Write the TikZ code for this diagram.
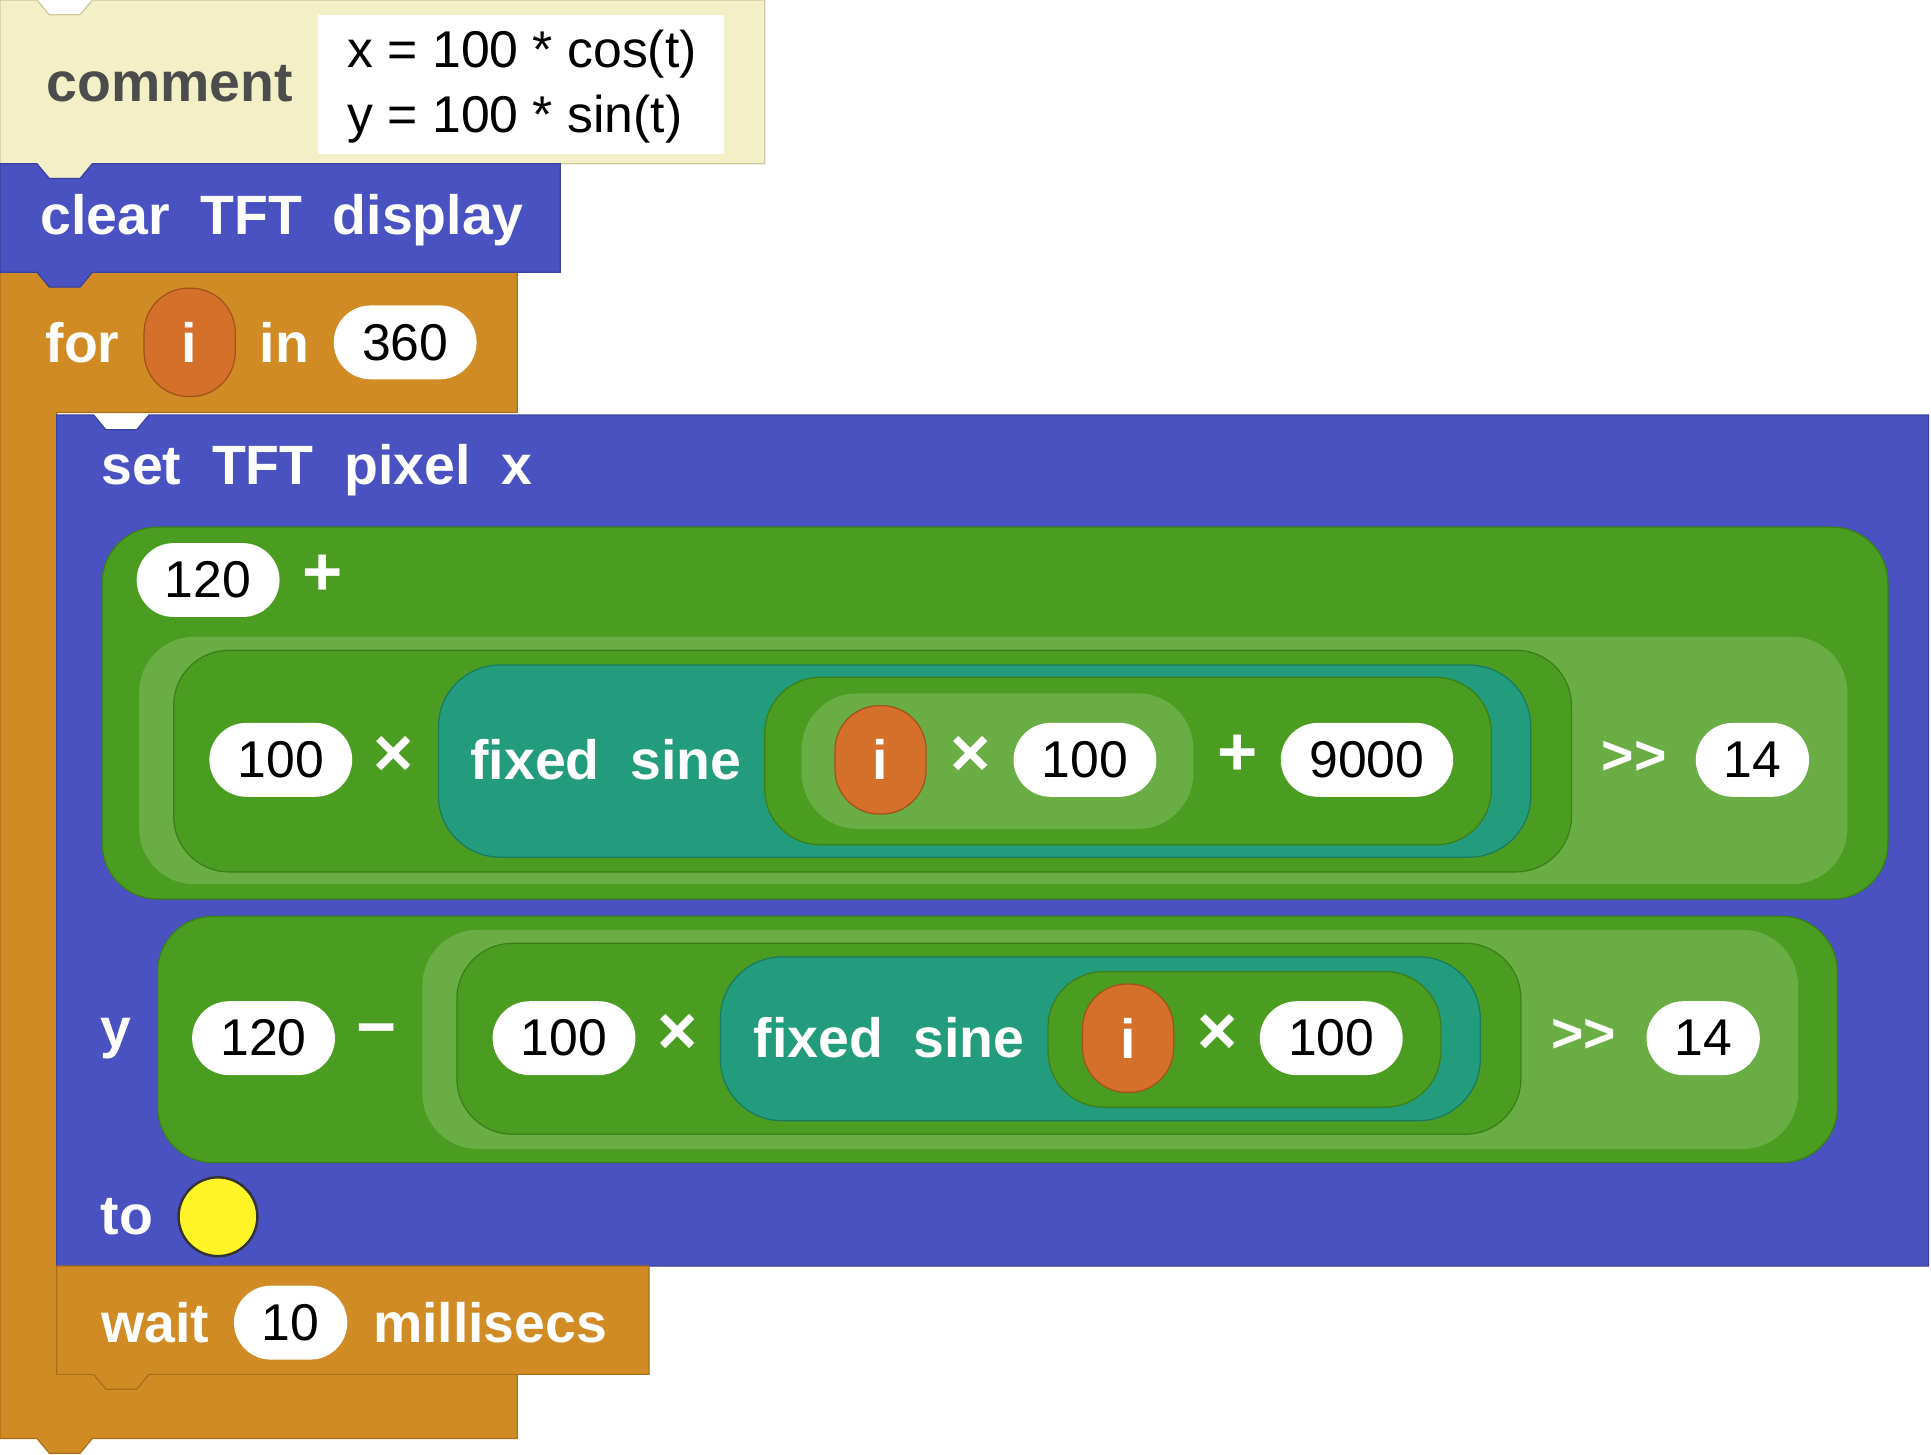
\documentclass[tikz,border=0pt]{standalone}
\usepackage{fontspec}
\setmainfont{Liberation Sans}
\begin{document}
\begin{tikzpicture}[x=1pt,y=-1pt,
 lab/.style={text=white,font=\fontsize{45}{50}\selectfont\bfseries,inner sep=0},
 op/.style={text=white,font=\fontsize{56}{60}\selectfont\bfseries,inner sep=0},
 pill/.style={fill=white,rounded corners=30pt,minimum height=60pt,font=\fontsize{42}{50}\selectfont,inner sep=0},
 var/.style={rectangle,rounded corners=36pt,fill=vorange,draw=vorangeD,line width=1pt,minimum width=74pt,minimum height=88pt,text=white,font=\fontsize{45}{50}\selectfont\bfseries,inner sep=0},
 blk/.style={line width=1pt},
 ]
\definecolor{cream}{HTML}{F3EFC6}\definecolor{creamD}{HTML}{CFC89E}
\definecolor{blue}{HTML}{4A52C2}\definecolor{blueD}{HTML}{3A42A0}
\definecolor{orng}{HTML}{D18B25}\definecolor{orngD}{HTML}{A86E1A}
\definecolor{vorange}{HTML}{D4702A}\definecolor{vorangeD}{HTML}{A2521C}
\definecolor{grn}{HTML}{4A9D20}\definecolor{grnD}{HTML}{3A7F18}
\definecolor{lgrn}{HTML}{6AAD45}\definecolor{teal}{HTML}{229C7C}\definecolor{tealD}{HTML}{1A7A60}
\useasboundingbox (0,0) rectangle (1568,1181);
% for block
\draw[blk,fill=orng,draw=orngD] (0,228) -- (0,1168) -- (30,1168) -- (40,1180) -- (65,1180) -- (75,1168) -- (420,1168) -- (420,1116) -- (46,1116) -- (46,335) -- (420,335) -- (420,221) -- (75,221) -- (65,233) -- (40,233) -- (30,221) -- (0,221) -- cycle;
% comment
\draw[blk,fill=cream,draw=creamD] (0,0) -- (30,0) -- (40,12) -- (65,12) -- (75,0) -- (621,0) -- (621,133) -- (75,133) -- (65,145) -- (40,145) -- (30,133) -- (0,133) -- cycle;
\fill[white] (258,12) rectangle (588,125);
\node[text=black!70,font=\fontsize{45}{50}\selectfont\bfseries] (cm) at (138,68) {comment};
\node[anchor=west,font=\fontsize{42}{50}\selectfont,inner sep=0] (l1) at (282,44) {x = 100 * cos(t)};
\node[anchor=west,font=\fontsize{42}{50}\selectfont,inner sep=0] (l2) at (282,97) {y = 100 * sin(t)};
% clear
\draw[blk,fill=blue,draw=blueD] (0,133) -- (30,133) -- (40,145) -- (65,145) -- (75,133) -- (455,133) -- (455,221) -- (75,221) -- (65,233) -- (40,233) -- (30,221) -- (0,221) -- cycle;
\node[lab] (clr) at (229,179) {clear\ \ TFT\ \ display};
% for header
\node[lab] (for) at (67,278) {for};
\node[var] (fi) at (154,278) {i};
\node[lab] (in) at (231,278) {in};
\node[pill,minimum width=116pt] (n360) at (329,278) {360};
% set block
\draw[blk,fill=blue,draw=blueD] (46,337) -- (76,337) -- (86,349) -- (111,349) -- (121,337) -- (1566,337) -- (1566,1028) -- (46,1028) -- cycle;
\node[lab,anchor=west] (set) at (82,382) {set\ \ TFT\ \ pixel\ \ x};
% x expression
\draw[blk,fill=grn,draw=grnD,rounded corners=45pt] (83,428) rectangle (1533,730);
\node[pill,minimum width=116pt] (x120) at (169,471) {120};
\node[op] (xplus) at (262,467) {+};
\draw[fill=lgrn,draw=none,rounded corners=45pt] (113,517) rectangle (1500,718);
\draw[blk,fill=grn,draw=grnD,rounded corners=45pt] (141,528) rectangle (1276,708);
\node[pill,minimum width=116pt] (x100) at (228,617) {100};
\node[op] (xt1) at (320,614) {×};
\draw[blk,fill=teal,draw=tealD,rounded corners=50pt] (356,540) rectangle (1243,696);
\node[lab] (xfs) at (492,617) {fixed\ \ sine};
\draw[blk,fill=grn,draw=grnD,rounded corners=45pt] (621,550) rectangle (1211,686);
\draw[fill=lgrn,draw=none,rounded corners=45pt] (651,563) rectangle (969,673);
\node[var] (xi) at (715,617) {i};
\node[op] (xt2) at (788,614) {×};
\node[pill,minimum width=116pt] (x100b) at (881,617) {100};
\node[op] (xp2) at (1005,613) {+};
\node[pill,minimum width=140pt] (x9000) at (1110,617) {9000};
\node[lab] (xsh) at (1327,615) {>{}>};
\node[pill,minimum width=92pt] (x14) at (1423,617) {14};
% y expression
\node[lab] (y) at (94,843) {y};
\draw[blk,fill=grn,draw=grnD,rounded corners=45pt] (128,744) rectangle (1492,944);
\node[pill,minimum width=116pt] (y120) at (214,843) {120};
\node[op] (ymin) at (306,842) {−};
\draw[fill=lgrn,draw=none,rounded corners=45pt] (343,755) rectangle (1460,933);
\draw[blk,fill=grn,draw=grnD,rounded corners=45pt] (371,766) rectangle (1235,921);
\node[pill,minimum width=116pt] (y100) at (458,843) {100};
\node[op] (yt1) at (550,840) {×};
\draw[blk,fill=teal,draw=tealD,rounded corners=50pt] (585,777) rectangle (1202,910);
\node[lab] (yfs) at (722,843) {fixed\ \ sine};
\draw[blk,fill=grn,draw=grnD,rounded corners=45pt] (851,789) rectangle (1170,899);
\node[var] (yi) at (916,843) {i};
\node[op] (yt2) at (989,840) {×};
\node[pill,minimum width=116pt] (y100b) at (1081,843) {100};
\node[lab] (ysh) at (1286,841) {>{}>};
\node[pill,minimum width=92pt] (y14) at (1383,843) {14};
% to
\node[lab] (to) at (103,988) {to};
\node[circle,fill=yellow!85!white,draw=black!80,line width=2pt,minimum size=64pt,inner sep=0] (col) at (177,988) {};
% wait
\draw[blk,fill=orng,draw=orngD] (46,1028) -- (527,1028) -- (527,1116) -- (121,1116) -- (111,1128) -- (86,1128) -- (76,1116) -- (46,1116) -- cycle;
\node[lab] (wait) at (126,1074) {wait};
\node[pill,minimum width=92pt] (w10) at (236,1074) {10};
\node[lab] (ms) at (398,1074) {millisecs};
\end{tikzpicture}
\end{document}
